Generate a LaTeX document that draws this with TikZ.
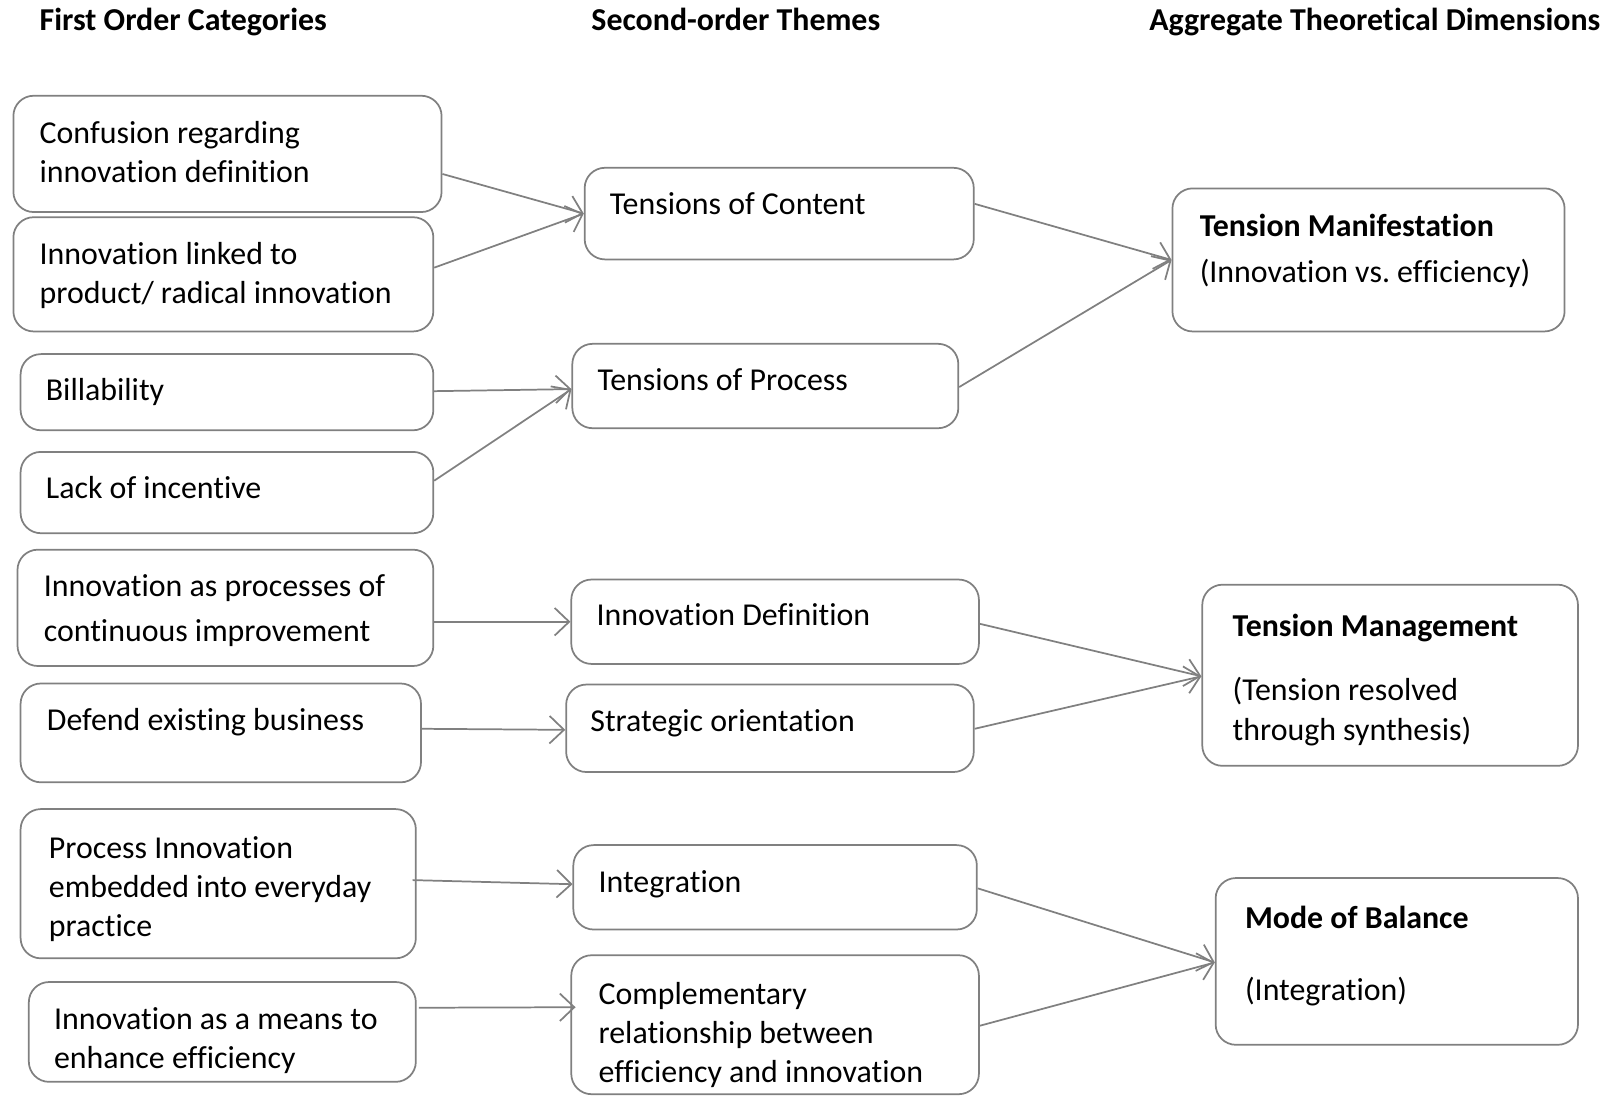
\documentclass[tikz,border=0pt]{standalone}
\usepackage{fontspec}
\setmainfont{Carlito}[Ligatures={NoCommon,NoContextual}]
\frenchspacing
\usetikzlibrary{arrows.meta,fit,calc}
\definecolor{boxgray}{RGB}{128,128,128}
\tikzset{
  box/.style={draw=boxgray, line width=0.6pt, rounded corners=7pt, inner sep=0pt},
  txt/.style={anchor=base west, inner sep=0pt, align=left, font=\fontsize{11pt}{13.5pt}\selectfont},
  hdr/.style={anchor=base west, inner sep=0pt, font=\fontsize{11pt}{13.5pt}\selectfont\bfseries},
  arr/.style={draw=boxgray, line width=0.6pt, -{Straight Barb[length=5pt,width=9.5pt]}}
}
\begin{document}
\begin{tikzpicture}[x=0.3551pt, y=-0.3551pt]
\useasboundingbox (0,0) rectangle (1568,1066);
% headers
\node[hdr] (h1) at (38,30) {First Order Categories};
\node[hdr] (h2) at (574,30) {Second-order Themes};
\node[hdr] (h3) at (1116,30) {Aggregate Theoretical Dimensions};
% left column boxes
\node[box, fit={(13,93) (429,206)}] (b1) {};
\node[box, fit={(13,211) (421,322)}] (b2) {};
\node[box, fit={(20,344) (421,418)}] (b3) {};
\node[box, fit={(20,439) (421,518)}] (b4) {};
\node[box, fit={(17,534) (421,647)}] (b5) {};
\node[box, fit={(20,664) (409,760)}] (b6) {};
\node[box, fit={(20,786) (404,931)}] (b7) {};
\node[box, fit={(28,954) (404,1051)}] (b8) {};
% middle column boxes
\node[box, fit={(568,163) (946,252)}] (mA) {};
\node[box, fit={(556,334) (931,416)}] (mB) {};
\node[box, fit={(555,563) (951,645)}] (mC) {};
\node[box, fit={(550,665) (946,750)}] (mD) {};
\node[box, fit={(557,821) (949,903)}] (mE) {};
\node[box, fit={(555,928) (951,1063)}] (mF) {};
% right column boxes
\node[box, fit={(1139,183) (1520,322)}] (r1) {};
\node[box, fit={(1168,568) (1533,744)}] (r2) {};
\node[box, fit={(1181,853) (1533,1015)}] (r3) {};
% texts (base anchor = baseline of last line)
\node[txt] (t1) at (38,177) {Confusion regarding\\innovation definition};
\node[txt] (t2) at (38,295) {Innovation linked to\\product/ radical innovation};
\node[txt] (t3) at (44,389) {Billability};
\node[txt] (t4) at (44,484) {Lack of incentive};
\node[txt] (t5) at (42,623) {Innovation as processes of\\[1.8pt]continuous improvement};
\node[txt] (t6) at (45,710) {Defend existing business};
\node[txt] (t7) at (47,910) {Process Innovation\\embedded into everyday\\practice};
\node[txt] (t8) at (52,1038) {Innovation as a means to\\enhance efficiency};
\node[txt] (tA) at (592,208) {Tensions of Content};
\node[txt] (tB) at (580,379) {Tensions of Process};
\node[txt] (tC) at (579,608) {Innovation Definition};
\node[txt] (tD) at (573,711) {Strategic orientation};
\node[txt] (tE) at (581,867) {Integration};
\node[txt] (tF) at (581,1052) {Complementary\\relationship between\\efficiency and innovation};
\node[txt] (tr1) at (1165,274) {\textbf{Tension Manifestation}\\[2.1pt](Innovation vs. efficiency)};
\node[txt] (tr2) at (1197,719) {\textbf{Tension Management}\\[8.9pt](Tension resolved\\through synthesis)};
\node[txt] (tr3) at (1209,972) {\textbf{Mode of Balance}\\[11.4pt](Integration)};
% connectors
\draw[arr] ($(b1.east)+(0,19.5)$) -- (mA.west);
\draw[arr] ($(b2.east)+(0,-6.5)$) -- (mA.west);
\draw[arr] ($(b3.east)+(0,-1)$) -- ($(mB.west)+(0,3)$);
\draw[arr] ($(b4.east)+(0,-11.5)$) -- ($(mB.west)+(0,3)$);
\draw[arr] ($(b5.east)+(0,13.5)$) -- (mC.west);
\draw[arr] ($(b6.east)+(0,-4)$) -- ($(mD.west)+(0,1.5)$);
\draw[arr] ($(b7.east)+(-4,-3.5)$) -- ($(mE.west)+(0,-3)$);
\draw[arr] ($(b8.east)+(2,-23.5)$) -- ($(mF.west)+(5,-17)$);
\draw[arr] ($(mA.east)+(0,-9.5)$) -- (r1.west);
\draw[arr] ($(mB.east)+(0,1)$) -- (r1.west);
\draw[arr] ($(mC.east)+(0,2)$) -- ($(r2.west)+(0,1)$);
\draw[arr] ($(mD.east)+(0,0.5)$) -- ($(r2.west)+(0,1)$);
\draw[arr] ($(mE.east)+(0,1)$) -- ($(r3.west)+(0,1)$);
\draw[arr] ($(mF.east)+(0,1)$) -- ($(r3.west)+(0,1)$);
\end{tikzpicture}
\end{document}
